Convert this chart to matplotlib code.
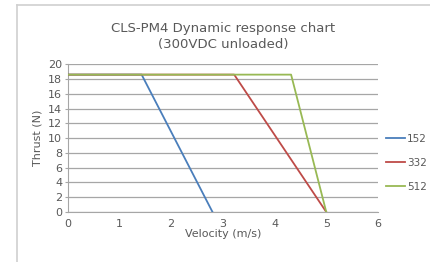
import matplotlib.pyplot as plt
from matplotlib.lines import Line2D

# data
series = ['152', '332', '512']
velocity = [[0, 1.43, 2.8], [0, 3.22, 5.0], [0, 4.32, 5.0]]
thrust = [[18.6, 18.6, 0], [18.6, 18.6, 0], [18.6, 18.6, 0]]
colors = ['#4a7ebb', '#be4b48', '#98b954']

plt.rcParams['font.family'] = ['DejaVu Sans']
text_color = '#595959'

fig = plt.figure(figsize=(4.3, 2.62), dpi=100)
ax = fig.add_axes([0.1574, 0.191, 0.7216, 0.5636])

# outer chart frame
fig.add_artist(Line2D([17 / 430, 17 / 430], [0, 1 - 5 / 262], transform=fig.transFigure,
                      color='#d0d0d0', lw=1.2))
fig.add_artist(Line2D([17 / 430, 1], [1 - 5 / 262, 1 - 5 / 262], transform=fig.transFigure,
                      color='#d0d0d0', lw=1.2))

for name, x, y, c in zip(series, velocity, thrust, colors):
    ax.plot(x, y, color=c, lw=1.3, label=name, zorder=3)

ax.set_xlim(0, 6)
ax.set_ylim(0, 20)
ax.set_xticks(range(0, 7))
ax.set_yticks(range(0, 21, 2))
ax.grid(axis='y', color='#a6a6a6', lw=0.9)
ax.tick_params(axis='x', length=0, labelsize=8, colors=text_color, pad=5)
ax.tick_params(axis='y', length=2, width=0.8, color='#a6a6a6', labelsize=8,
               labelcolor=text_color, pad=2)
for side in ['top', 'right']:
    ax.spines[side].set_visible(False)
for side in ['left', 'bottom']:
    ax.spines[side].set_color('#a6a6a6')

ax.set_xlabel('Velocity (m/s)', fontsize=8, color=text_color, labelpad=0)
ax.set_ylabel('Thrust (N)', fontsize=8, color=text_color, labelpad=4)
ax.set_title('CLS-PM4 Dynamic response chart\n(300VDC unloaded)', fontsize=9.5,
             color=text_color, pad=12, linespacing=1.25)

ax.legend(loc='center left', bbox_to_anchor=(386 / 430, 1 - 163 / 262),
          bbox_transform=fig.transFigure, frameon=False, fontsize=7.5,
          labelcolor=text_color, handlelength=1.8, handletextpad=0.2, labelspacing=1.35,
          borderaxespad=0, borderpad=0)

fig.savefig('out.png', dpi=100)
